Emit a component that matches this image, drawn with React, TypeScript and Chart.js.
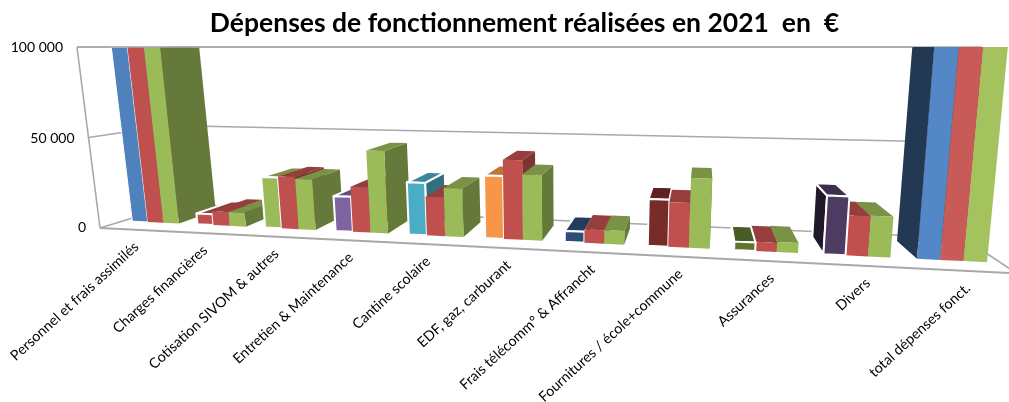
import React, { useEffect, useRef } from "react";
import { Chart, registerables } from "chart.js";

Chart.register(...registerables);

const categories = [
  "Personnel et frais assimilés",
  "Charges financières",
  "Cotisation SIVOM & autres",
  "Entretien & Maintenance",
  "Cantine scolaire",
  "EDF, gaz, carburant",
  "Frais télécomm° & Affrancht",
  "Fournitures / école+commune",
  "Assurances",
  "Divers",
  "total dépenses fonct.",
];
const series2019 = [170000, 6100, 28000, 18900, 27800, 32800, 5600, 23600, 4100, 28300, 345000];
const series2020 = [175000, 7800, 28700, 24300, 20500, 41300, 6800, 22300, 4500, 19300, 350000];
const series2021 = [180000, 7700, 27600, 44200, 25500, 33900, 6900, 34700, 4900, 19400, 385000];
const firstColors = ["#4F81BD", "#C0504D", "#9BBB59", "#8064A2", "#4BACC6", "#F79646", "#2C4D75", "#772C2A", "#5F7530", "#4D3B62", "#5487C6"];
const firstBorders = [1, 2, 2, 2, 2, 2, 2, 2, 2, 2, 0];
const redColors = ["#C0504D", "#C0504D", "#C0504D", "#C0504D", "#C0504D", "#C0504D", "#C0504D", "#C0504D", "#C0504D", "#C0504D", "#C85B58"];
const greenColors = ["#9BBB59", "#9BBB59", "#9BBB59", "#9BBB59", "#9BBB59", "#9BBB59", "#9BBB59", "#9BBB59", "#9BBB59", "#9BBB59", "#A4C35F"];

// Camera: the eight corners of the chart box on the page, and the perspective along the width.
type P = [number, number];
const floorFrontL: P = [100, 228];
const floorFrontR: P = [1017, 273.5];
const floorBackL: P = [178, 204];
const floorBackR: P = [977, 238];
const topFrontL: P = [77, 47];
const topFrontR: P = [1040, 47];
const topBackL: P = [160, 47];
const topBackR: P = [995, 47];
const WARP = 1.26;
const BAR_FRONT = 0.3;
const BAR_BACK = 0.82;
const VANISH = 0.66;
const RIGHT_PULL = 40;

const mix = (a: P, b: P, t: number): P => [a[0] + (b[0] - a[0]) * t, a[1] + (b[1] - a[1]) * t];
const warp = (u: number) => u / (u + WARP * (1 - u));
function project(u: number, v: number, d: number): P {
  const g = warp(u);
  const frontFloor = mix(floorFrontL, floorFrontR, g);
  const backFloor = mix(floorBackL, floorBackR, g);
  const frontTop = mix(topFrontL, topFrontR, g);
  const backTop = mix(topBackL, topBackR, g);
  const p = mix(mix(frontFloor, backFloor, d), mix(frontTop, backTop, d), v);
  return [p[0] - d * RIGHT_PULL * Math.max(0, g - VANISH), p[1]];
}

function shade(hex: string, f: number) {
  const n = parseInt(hex.slice(1), 16);
  const c = [(n >> 16) & 255, (n >> 8) & 255, n & 255].map((x) => Math.round(x * f));
  return `rgb(${c[0]},${c[1]},${c[2]})`;
}

function poly(ctx: CanvasRenderingContext2D, pts: P[], fill: string, bw: number, stroke: string) {
  ctx.beginPath();
  pts.forEach((p, i) => (i ? ctx.lineTo(p[0], p[1]) : ctx.moveTo(p[0], p[1])));
  ctx.closePath();
  ctx.fillStyle = fill;
  ctx.fill();
  if (bw > 0) {
    ctx.lineWidth = bw;
    ctx.strokeStyle = stroke;
    ctx.lineJoin = "round";
    ctx.stroke();
  }
}

function line(ctx: CanvasRenderingContext2D, a: P, b: P, w = 1.6, color = "#a9a9a9") {
  ctx.beginPath();
  ctx.moveTo(a[0], a[1]);
  ctx.lineTo(b[0], b[1]);
  ctx.lineWidth = w;
  ctx.strokeStyle = color;
  ctx.stroke();
}

const box3d = {
  id: "box3d",
  beforeDatasetsDraw(chart: any) {
    const { ctx, chartArea: a, scales } = chart;
    const yScale = scales.y;
    const xScale = scales.x;
    const toU = (px: number) => (px - a.left) / (a.right - a.left);
    const toV = (px: number) => Math.min(1, Math.max(0, (a.bottom - px) / (a.bottom - a.top)));
    ctx.save();

    // Walls and floor
    line(ctx, project(0, 1, 0), project(0, 0, 0));
    line(ctx, project(0, 0, 1), project(0, 1, 1));
    line(ctx, project(0, 0, 0), project(0, 0, 1));
    line(ctx, project(0, 0, 1), project(1, 0, 1));
    line(ctx, project(0, 0, 0), project(1, 0, 0), 2);
    line(ctx, project(1, 0, 0), project(1, 0, 1));

    // Grid lines and value labels from the y scale
    ctx.font = "14px Lato";
    ctx.textAlign = "right";
    ctx.textBaseline = "middle";
    yScale.ticks.forEach((t: any) => {
      const v = toV(yScale.getPixelForValue(t.value));
      if (v > 0) {
        line(ctx, project(0, v, 0), project(0, v, 1));
        line(ctx, project(0, v, 1), project(1, v, 1));
      }
      const p = project(0, v, 0);
      ctx.fillStyle = "#000";
      ctx.fillText(t.label, p[0] - 14, p[1] + (v === 1 ? 0 : v === 0 ? -1 : 1));
    });

    // Category labels from the x scale
    ctx.font = "14.3px Lato";
    xScale.ticks.forEach((t: any, i: number) => {
      const p = project(toU(xScale.getPixelForTick(i)), 0, 0);
      ctx.save();
      ctx.translate(p[0] + 3, p[1] + 15);
      ctx.rotate((-42.5 * Math.PI) / 180);
      ctx.textAlign = "right";
      ctx.textBaseline = "middle";
      ctx.fillStyle = "#000";
      ctx.fillText(String(t.label), 0, 0);
      ctx.restore();
    });

    // Bars: from the outside towards the vanishing point
    const items: any[] = [];
    chart.data.datasets.forEach((_: any, di: number) => {
      chart.getDatasetMeta(di).data.forEach((el: any) => {
        const { x, y, base, width } = el.getProps(["x", "y", "base", "width"], true);
        const u0 = toU(x - width / 2);
        const u1 = toU(x + width / 2);
        items.push({ u0, u1, v: toV(y), clipped: y < a.top, v0: toV(base), o: el.options });
      });
    });
    items.sort(
      (p, q) =>
        Math.abs(warp((q.u0 + q.u1) / 2) - VANISH) - Math.abs(warp((p.u0 + p.u1) / 2) - VANISH),
    );
    items.forEach(({ u0, u1, v, clipped, v0, o }) => {
      const color = o.backgroundColor as string;
      const bw = (o.borderWidth as number) || 0;
      const stroke = o.borderColor as string;
      const isLeft = warp((u0 + u1) / 2) < VANISH;
      const su = isLeft ? u1 : u0;
      poly(
        ctx,
        [project(su, v0, BAR_FRONT), project(su, v, BAR_FRONT), project(su, v, BAR_BACK), project(su, v0, BAR_BACK)],
        shade(color, isLeft ? 0.65 : 0.42),
        bw,
        stroke,
      );
      if (!clipped) {
        poly(
          ctx,
          [project(u0, v, BAR_FRONT), project(u1, v, BAR_FRONT), project(u1, v, BAR_BACK), project(u0, v, BAR_BACK)],
          shade(color, 0.78),
          bw,
          stroke,
        );
      }
      poly(
        ctx,
        [project(u0, v0, BAR_FRONT), project(u1, v0, BAR_FRONT), project(u1, v, BAR_FRONT), project(u0, v, BAR_FRONT)],
        color,
        bw,
        stroke,
      );
    });

    // Top edge of the box
    line(ctx, project(0, 1, 0), project(0, 1, 1));
    line(ctx, project(0, 1, 1), project(0.93, 1, 1));
    ctx.restore();
  },
  beforeDatasetDraw() {
    return false;
  },
};

export default function App() {
  const ref = useRef<HTMLCanvasElement>(null);
  useEffect(() => {
    const chart = new Chart(ref.current!, {
      type: "bar",
      plugins: [box3d as any],
      data: {
        labels: categories,
        datasets: [
          { label: "Série 1", data: series2019, backgroundColor: firstColors, borderColor: "#ffffff", borderWidth: firstBorders },
          { label: "Série 2", data: series2020, backgroundColor: redColors, borderColor: "#ffffff", borderWidth: 0 },
          { label: "Série 3", data: series2021, backgroundColor: greenColors, borderColor: "#ffffff", borderWidth: 0 },
        ],
      },
      options: {
        animation: false,
        responsive: false,
        layout: { padding: { left: 40, right: 0, top: 4, bottom: 10 } },
        datasets: { bar: { categoryPercentage: 0.72, barPercentage: 1 } },
        plugins: {
          legend: { display: false },
          tooltip: { enabled: false },
          title: {
            display: true,
            text: "Dépenses de fonctionnement réalisées en 2021  en  €",
            color: "#000",
            font: { family: "Lato", size: 26.5, weight: "bold" },
            padding: { top: 4, bottom: 6 },
          },
        },
        scales: {
          x: { grid: { display: false }, border: { display: false }, ticks: { display: false, autoSkip: false } },
          y: {
            min: 0,
            max: 100000,
            grid: { display: false },
            border: { display: false },
            ticks: {
              display: false,
              stepSize: 50000,
              callback: (v: any) => String(v).replace(/\B(?=(\d{3})+$)/g, " "),
            },
          },
        },
      },
    } as any);
    return () => chart.destroy();
  }, []);
  return (
    <div style={{ position: "absolute", left: 0, top: 0, width: 1009, height: 402, background: "#fff" }}>
      <canvas ref={ref} width={1009} height={402} style={{ display: "block" }} />
    </div>
  );
}
